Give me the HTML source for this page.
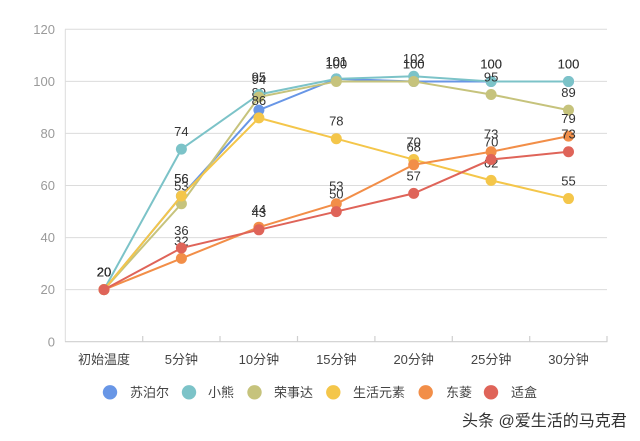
<!DOCTYPE html>
<html><head><meta charset="utf-8"><style>
html,body{margin:0;padding:0;background:#fff;}
svg{display:block;}
text{font-family:"Liberation Sans","Noto Sans CJK SC",sans-serif;}
</style></head><body>
<svg width="640" height="441" viewBox="0 0 640 441" xmlns="http://www.w3.org/2000/svg">
<rect width="640" height="441" fill="#fff"/>
<g stroke="#dcdcdc" stroke-width="1">
<line x1="65" y1="29.3" x2="607" y2="29.3"/>
<line x1="65" y1="81.4" x2="607" y2="81.4"/>
<line x1="65" y1="133.4" x2="607" y2="133.4"/>
<line x1="65" y1="185.5" x2="607" y2="185.5"/>
<line x1="65" y1="237.6" x2="607" y2="237.6"/>
<line x1="65" y1="289.6" x2="607" y2="289.6"/>
<line x1="65.3" y1="29.3" x2="65.3" y2="341.7"/>
</g>
<g stroke="#cfcfcf" stroke-width="1.2">
<line x1="65" y1="341.7" x2="607.5" y2="341.7"/>
<line x1="142.7" y1="336" x2="142.7" y2="341.7"/>
<line x1="220" y1="336" x2="220" y2="341.7"/>
<line x1="297.5" y1="336" x2="297.5" y2="341.7"/>
<line x1="374.9" y1="336" x2="374.9" y2="341.7"/>
<line x1="452.3" y1="336" x2="452.3" y2="341.7"/>
<line x1="529.7" y1="336" x2="529.7" y2="341.7"/>
<line x1="607" y1="336" x2="607" y2="341.7"/>
</g>
<g font-size="13" fill="#9a9a9a" text-anchor="end">
<text x="55" y="34">120</text>
<text x="55" y="86">100</text>
<text x="55" y="138">80</text>
<text x="55" y="190">60</text>
<text x="55" y="242">40</text>
<text x="55" y="294">20</text>
<text x="55" y="346.5">0</text>
</g>
<g font-size="13" fill="#444" text-anchor="middle">
<text x="104" y="364">初始温度</text>
<text x="181.4" y="364">5分钟</text>
<text x="258.9" y="364">10分钟</text>
<text x="336.3" y="364">15分钟</text>
<text x="413.7" y="364">20分钟</text>
<text x="491.1" y="364">25分钟</text>
<text x="568.5" y="364">30分钟</text>
</g>

<!-- 苏泊尔 blue -->
<g>
<polyline fill="none" stroke="#6896e6" stroke-width="2" points="104,289.65 181.4,195.96 258.9,110.1 336.3,78.85 413.7,81.45 491.1,81.45 568.5,81.45"/>
<g fill="#6896e6"><circle cx="104" cy="289.65" r="5.5"/><circle cx="181.4" cy="195.96" r="5.5"/><circle cx="258.9" cy="110.1" r="5.5"/><circle cx="336.3" cy="78.85" r="5.5"/><circle cx="413.7" cy="81.45" r="5.5"/><circle cx="491.1" cy="81.45" r="5.5"/><circle cx="568.5" cy="81.45" r="5.5"/></g>
<g font-size="13" fill="#333" text-anchor="middle"><text x="104" y="276.6">20</text><text x="181.4" y="183">56</text><text x="258.9" y="97">89</text><text x="336.3" y="65.8">101</text><text x="413.7" y="68.4">100</text><text x="491.1" y="68.4">100</text><text x="568.5" y="68.4">100</text></g>
</g>
<!-- 小熊 teal -->
<g>
<polyline fill="none" stroke="#7cc3c8" stroke-width="2" points="104,289.65 181.4,149.12 258.9,94.46 336.3,78.85 413.7,76.25 491.1,81.45 568.5,81.45"/>
<g fill="#7cc3c8"><circle cx="104" cy="289.65" r="5.5"/><circle cx="181.4" cy="149.12" r="5.5"/><circle cx="258.9" cy="94.46" r="5.5"/><circle cx="336.3" cy="78.85" r="5.5"/><circle cx="413.7" cy="76.25" r="5.5"/><circle cx="491.1" cy="81.45" r="5.5"/><circle cx="568.5" cy="81.45" r="5.5"/></g>
<g font-size="13" fill="#333" text-anchor="middle"><text x="104" y="276.6">20</text><text x="181.4" y="136">74</text><text x="258.9" y="81.4">95</text><text x="336.3" y="65.8">101</text><text x="413.7" y="63.2">102</text><text x="491.1" y="68.4">100</text><text x="568.5" y="68.4">100</text></g>
</g>
<!-- 荣事达 olive -->
<g>
<polyline fill="none" stroke="#c6c37c" stroke-width="2" points="104,289.65 181.4,203.77 258.9,97.07 336.3,81.45 413.7,81.45 491.1,94.46 568.5,110.1"/>
<g fill="#c6c37c"><circle cx="104" cy="289.65" r="5.5"/><circle cx="181.4" cy="203.77" r="5.5"/><circle cx="258.9" cy="97.07" r="5.5"/><circle cx="336.3" cy="81.45" r="5.5"/><circle cx="413.7" cy="81.45" r="5.5"/><circle cx="491.1" cy="94.46" r="5.5"/><circle cx="568.5" cy="110.1" r="5.5"/></g>
<g font-size="13" fill="#333" text-anchor="middle"><text x="104" y="276.6">20</text><text x="181.4" y="190.7">53</text><text x="258.9" y="84">94</text><text x="336.3" y="68.4">100</text><text x="413.7" y="68.4">100</text><text x="491.1" y="81.4">95</text><text x="568.5" y="97">89</text></g>
</g>
<!-- 生活元素 yellow -->
<g>
<polyline fill="none" stroke="#f4c64a" stroke-width="2" points="104,289.65 181.4,195.96 258.9,117.9 336.3,138.7 413.7,159.53 491.1,180.35 568.5,198.56"/>
<g fill="#f4c64a"><circle cx="104" cy="289.65" r="5.5"/><circle cx="181.4" cy="195.96" r="5.5"/><circle cx="258.9" cy="117.9" r="5.5"/><circle cx="336.3" cy="138.7" r="5.5"/><circle cx="413.7" cy="159.53" r="5.5"/><circle cx="491.1" cy="180.35" r="5.5"/><circle cx="568.5" cy="198.56" r="5.5"/></g>
<g font-size="13" fill="#333" text-anchor="middle"><text x="104" y="276.6">20</text><text x="181.4" y="183">56</text><text x="258.9" y="104.8">86</text><text x="336.3" y="125.6">78</text><text x="413.7" y="146.5">70</text><text x="491.1" y="167.3">62</text><text x="568.5" y="185.5">55</text></g>
</g>
<!-- 东菱 orange -->
<g>
<polyline fill="none" stroke="#f28e48" stroke-width="2" points="104,289.65 181.4,258.42 258.9,227.19 336.3,203.77 413.7,164.73 491.1,151.72 568.5,136.1"/>
<g fill="#f28e48"><circle cx="104" cy="289.65" r="5.5"/><circle cx="181.4" cy="258.42" r="5.5"/><circle cx="258.9" cy="227.19" r="5.5"/><circle cx="336.3" cy="203.77" r="5.5"/><circle cx="413.7" cy="164.73" r="5.5"/><circle cx="491.1" cy="151.72" r="5.5"/><circle cx="568.5" cy="136.1" r="5.5"/></g>
<g font-size="13" fill="#333" text-anchor="middle"><text x="104" y="276.6">20</text><text x="181.4" y="245.4">32</text><text x="258.9" y="214.1">44</text><text x="336.3" y="190.7">53</text><text x="413.7" y="151.7">68</text><text x="491.1" y="138.7">73</text><text x="568.5" y="123">79</text></g>
</g>
<!-- 适盒 red -->
<g>
<polyline fill="none" stroke="#df6459" stroke-width="2" points="104,289.65 181.4,248.01 258.9,229.8 336.3,211.58 413.7,193.36 491.1,159.53 568.5,151.72"/>
<g fill="#df6459"><circle cx="104" cy="289.65" r="5.5"/><circle cx="181.4" cy="248.01" r="5.5"/><circle cx="258.9" cy="229.8" r="5.5"/><circle cx="336.3" cy="211.58" r="5.5"/><circle cx="413.7" cy="193.36" r="5.5"/><circle cx="491.1" cy="159.53" r="5.5"/><circle cx="568.5" cy="151.72" r="5.5"/></g>
<g font-size="13" fill="#333" text-anchor="middle"><text x="104" y="276.6">20</text><text x="181.4" y="235">36</text><text x="258.9" y="216.8">43</text><text x="336.3" y="198.5">50</text><text x="413.7" y="180.3">57</text><text x="491.1" y="146.5">70</text><text x="568.5" y="138.7">73</text></g>
</g>

<!-- legend -->
<g>
<circle cx="110" cy="392.3" r="7.2" fill="#6896e6"/>
<circle cx="189" cy="392.3" r="7.2" fill="#7cc3c8"/>
<circle cx="254.5" cy="392.3" r="7.2" fill="#c6c37c"/>
<circle cx="333.3" cy="392.3" r="7.2" fill="#f4c64a"/>
<circle cx="425.7" cy="392.3" r="7.2" fill="#f28e48"/>
<circle cx="491" cy="392.3" r="7.2" fill="#df6459"/>
</g>
<g font-size="13" fill="#444">
<text x="130" y="397">苏泊尔</text>
<text x="208" y="397">小熊</text>
<text x="274" y="397">荣事达</text>
<text x="353" y="397">生活元素</text>
<text x="446" y="397">东菱</text>
<text x="511" y="397">适盒</text>
</g>
<text x="462" y="426" font-size="16" fill="#333" stroke="#fff" stroke-width="0.5" paint-order="stroke">头条 @爱生活的马克君</text>
</svg>
</body></html>
